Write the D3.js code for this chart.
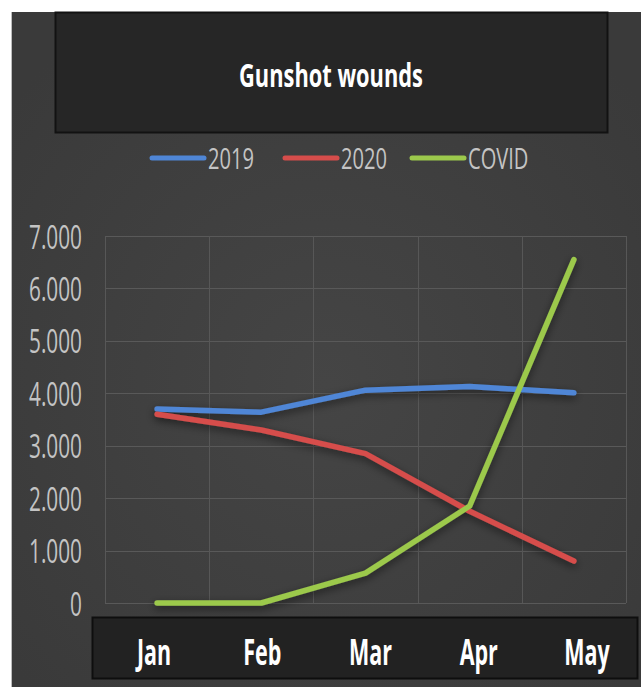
<!DOCTYPE html>
<html>
<head>
<meta charset="utf-8">
<script src="https://cdn.jsdelivr.net/npm/d3@7"></script>
<style>
  html, body { margin: 0; padding: 0; background: #ffffff; }
  svg { display: block; }
</style>
</head>
<body>
<svg id="chart" width="641" height="687"></svg>
<script>
// Monthly gunshot-wound counts
const months = ["Jan", "Feb", "Mar", "Apr", "May"];
const values2019 = [3700, 3640, 4060, 4130, 4010];
const values2020 = [3600, 3300, 2850, 1750, 800];
const valuesCovid = [0, 0, 570, 1850, 6550];
const seriesNames = ["2019", "2020", "COVID"];
const yTicks = [0, 1000, 2000, 3000, 4000, 5000, 6000, 7000];
const chartTitle = "Gunshot wounds";

const colors = { "2019": "#4f86d6", "2020": "#d64d4b", "COVID": "#9cc94c" };
const series = [
  { name: seriesNames[0], values: values2019 },
  { name: seriesNames[1], values: values2020 },
  { name: seriesNames[2], values: valuesCovid }
];

const svg = d3.select("#chart");
const defs = svg.append("defs");

const bg = defs.append("radialGradient").attr("id", "panelBg")
  .attr("cx", "50%").attr("cy", "55%").attr("r", "65%");
bg.append("stop").attr("offset", "0%").attr("stop-color", "#454545");
bg.append("stop").attr("offset", "100%").attr("stop-color", "#3a3a3a");

const shadow = defs.append("filter").attr("id", "lineShadow")
  .attr("x", "-20%").attr("y", "-20%").attr("width", "140%").attr("height", "140%");
shadow.append("feDropShadow").attr("dx", 0).attr("dy", 3)
  .attr("stdDeviation", 4).attr("flood-color", "#000").attr("flood-opacity", 0.55);

// Dark panel behind everything
svg.append("rect").attr("x", 12).attr("y", 12).attr("width", 629).attr("height", 675)
  .attr("fill", "url(#panelBg)");
svg.append("line").attr("x1", 11.5).attr("x2", 11.5).attr("y1", 12).attr("y2", 687)
  .attr("stroke", "#bdbdbd").attr("stroke-width", 1);

// Horizontally compressed text helper: fits a string to a target width
function squeezedText(parent, str, x, y, opts) {
  const g = parent.append("g");
  const t = g.append("text").text(str)
    .attr("font-family", "'Open Sans', 'Noto Sans', sans-serif")
    .attr("font-size", opts.size)
    .attr("font-weight", opts.weight || 400)
    .attr("fill", opts.fill)
    .attr("text-anchor", opts.anchor || "start")
    .attr("dy", "0.36em");
  const w = t.node().getComputedTextLength();
  const sx = opts.scale != null ? opts.scale : opts.width / w;
  g.attr("transform", `translate(${x},${y}) scale(${sx},1)`);
  return sx;
}

// Title box
svg.append("rect").attr("x", 55.5).attr("y", 12.5).attr("width", 552).attr("height", 120)
  .attr("fill", "#262626").attr("stroke", "#121212").attr("stroke-width", 2);
squeezedText(svg, chartTitle, 331, 75, { size: 33, weight: 700, fill: "#ffffff", anchor: "middle", width: 184 });

// Scales
const x = d3.scaleBand().domain(months).range([105, 626]).padding(0);
const y = d3.scaleLinear().domain([0, 7000]).range([603, 236]);

// Gridlines
const grid = svg.append("g");
grid.selectAll("line.h").data(yTicks).join("line")
  .attr("x1", 105).attr("x2", 626)
  .attr("y1", d => Math.round(y(d)) + 0.5).attr("y2", d => Math.round(y(d)) + 0.5)
  .attr("stroke", "#595959").attr("stroke-width", 1);
const bounds = months.map(m => x(m)).concat([x.range()[1]]);
grid.selectAll("line.v").data(bounds).join("line")
  .attr("x1", d => Math.round(d) + 0.5).attr("x2", d => Math.round(d) + 0.5)
  .attr("y1", y(7000)).attr("y2", y(0))
  .attr("stroke", "#575757").attr("stroke-width", 1);

// Y tick labels (dot as thousands separator)
const fmt = d => d3.format(",")(d).replace(/,/g, ".");
const yAxis = svg.append("g");
let ySx = null;
yTicks.slice().reverse().forEach(d => {
  const opts = { size: 32, fill: "#c4c4c4", anchor: "end" };
  if (ySx == null) { opts.width = 53; ySx = squeezedText(yAxis, fmt(d), 82, y(d) + 1, opts); }
  else { opts.scale = ySx; squeezedText(yAxis, fmt(d), 82, y(d) + 1, opts); }
});

// Lines
const line = d3.line().x((d, i) => x(months[i]) + x.bandwidth() / 2).y(d => y(d));
svg.append("g").attr("filter", "url(#lineShadow)")
  .selectAll("path").data(series).join("path")
  .attr("d", s => line(s.values))
  .attr("fill", "none")
  .attr("stroke", s => colors[s.name])
  .attr("stroke-width", 5.5)
  .attr("stroke-linecap", "round")
  .attr("stroke-linejoin", "round");

// Legend
const legend = svg.append("g");
const legendItems = [
  { name: seriesNames[0], x0: 152 },
  { name: seriesNames[1], x0: 285 },
  { name: seriesNames[2], x0: 412 }
];
let lSx = null;
legendItems.forEach(it => {
  legend.append("line").attr("x1", it.x0).attr("x2", it.x0 + 52)
    .attr("y1", 158).attr("y2", 158)
    .attr("stroke", colors[it.name]).attr("stroke-width", 5).attr("stroke-linecap", "round");
  const opts = { size: 30, fill: "#c4c4c4" };
  if (lSx == null) { opts.width = 46; lSx = squeezedText(legend, it.name, it.x0 + 56, 158, opts); }
  else { opts.scale = lSx; squeezedText(legend, it.name, it.x0 + 56, 158, opts); }
});

// Category strip along the bottom
svg.append("rect").attr("x", 92.5).attr("y", 617.5).attr("width", 545).attr("height", 61)
  .attr("fill", "#222222").attr("stroke", "#0e0e0e").attr("stroke-width", 2);
const xLabels = d3.scaleBand().domain(months).range([100, 641]);
let mSx = null;
const monthGroup = svg.append("g");
["Mar"].concat(months.filter(m => m !== "Mar")).forEach(m => {
  const cx = xLabels(m) + xLabels.bandwidth() / 2;
  const opts = { size: 35, weight: 700, fill: "#ffffff", anchor: "middle" };
  if (mSx == null) { opts.width = 43; mSx = squeezedText(monthGroup, m, cx, 652, opts); }
  else { opts.scale = mSx; squeezedText(monthGroup, m, cx, 652, opts); }
});
</script>
</body>
</html>
